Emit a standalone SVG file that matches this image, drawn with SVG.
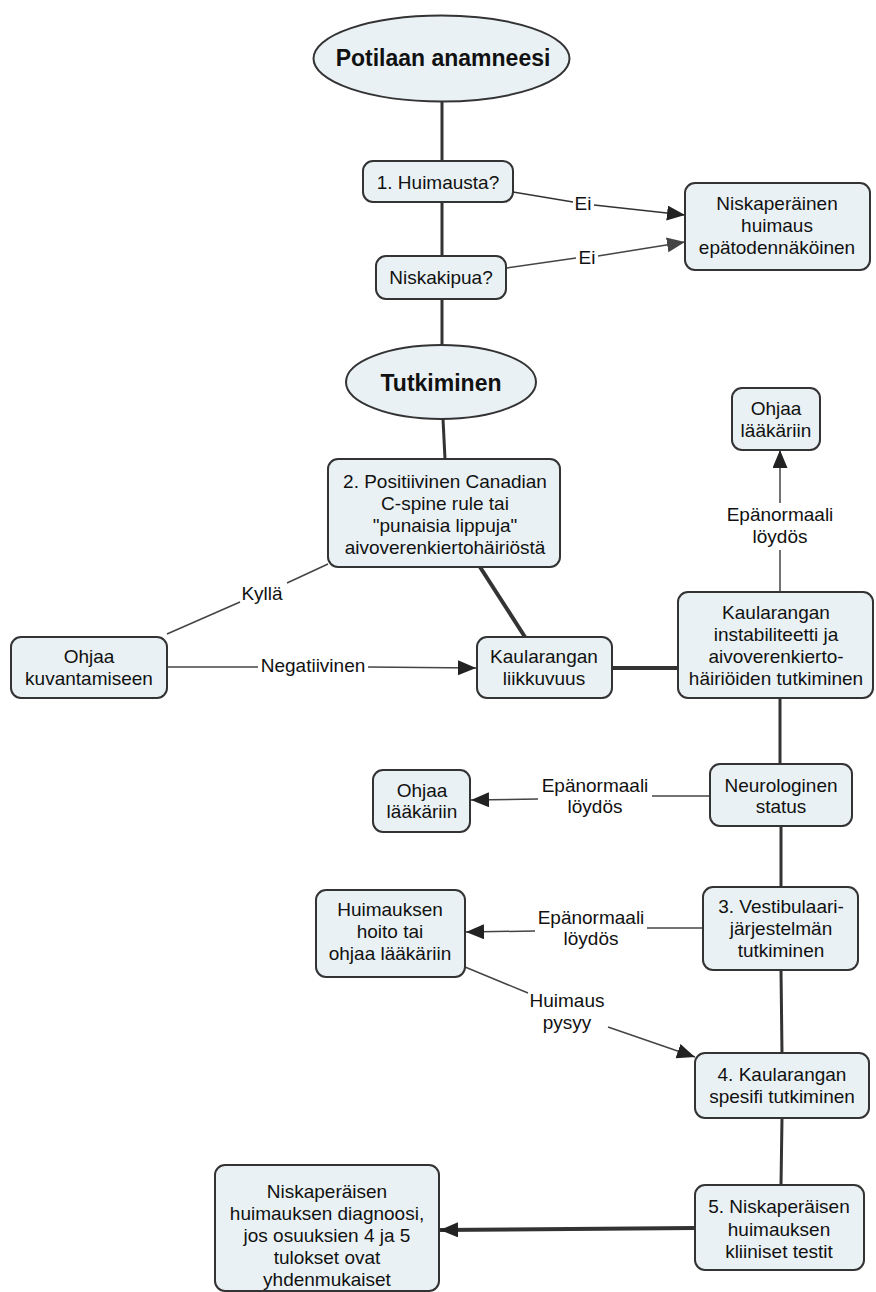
<svg xmlns="http://www.w3.org/2000/svg" width="876" height="1292" viewBox="0 0 876 1292">
<style>
.bg{fill:#ffffff}
.box{fill:#e9f1f5;stroke:#333333;stroke-width:2}
.t{font-family:"Liberation Sans",Arial,sans-serif;font-size:19px;fill:#111111;text-anchor:middle}
.tb{font-family:"Liberation Sans",Arial,sans-serif;font-size:23px;font-weight:bold;fill:#111111;text-anchor:middle}
.lbl{font-family:"Liberation Sans",Arial,sans-serif;font-size:19px;fill:#111111;text-anchor:middle}
.thick{stroke:#333333;stroke-width:3;fill:none}
.thicker{stroke:#333333;stroke-width:4;fill:none}
.thin{stroke:#333333;stroke-width:1.6;fill:none}
.thing{stroke:#444444;stroke-width:1.5;fill:none}
</style>
<defs>
<marker id="ah" markerUnits="userSpaceOnUse" markerWidth="20" markerHeight="17" refX="18" refY="7.5" orient="auto">
<path d="M0,0 L18,7.5 L0,15 z" fill="#222222"/>
</marker>
<marker id="ahg" markerUnits="userSpaceOnUse" markerWidth="20" markerHeight="17" refX="18" refY="7.5" orient="auto">
<path d="M0,0 L18,7.5 L0,15 z" fill="#444444"/>
</marker>
</defs>
<rect class="bg" x="0" y="0" width="876" height="1292"/>
<g id="connectors">
<line class="thick" x1="442" y1="101" x2="442" y2="161"/>
<line class="thick" x1="442" y1="202" x2="442" y2="256"/>
<line class="thick" x1="442" y1="299" x2="442" y2="345"/>
<line class="thick" x1="443" y1="419" x2="445" y2="459"/>
<line class="thin" x1="513" y1="192" x2="573" y2="202"/>
<line class="thin" x1="594" y1="205" x2="685" y2="215" marker-end="url(#ah)"/>
<text class="lbl" x="583" y="210">Ei</text>
<line class="thing" x1="507" y1="268" x2="576" y2="258"/>
<line class="thing" x1="598" y1="256" x2="685" y2="242" marker-end="url(#ahg)"/>
<text class="lbl" x="587" y="264">Ei</text>
<line class="thicker" x1="480" y1="567" x2="525" y2="637"/>
<line class="thing" x1="167" y1="634" x2="240" y2="602"/>
<line class="thing" x1="287" y1="583" x2="328" y2="564"/>
<text class="lbl" x="262" y="600">Kyllä</text>
<line class="thing" x1="167" y1="667" x2="258" y2="667"/>
<line class="thing" x1="368" y1="667" x2="476" y2="668" marker-end="url(#ah)"/>
<text class="lbl" x="313" y="672">Negatiivinen</text>
<line class="thicker" x1="612" y1="668" x2="678" y2="668"/>
<line class="thing" x1="780" y1="592" x2="780" y2="550"/>
<line class="thing" x1="780" y1="503" x2="780" y2="450" marker-end="url(#ah)"/>
<text class="lbl" x="780" y="521">Epänormaali</text>
<text class="lbl" x="780" y="543">löydös</text>
<line class="thick" x1="780" y1="698" x2="780" y2="764"/>
<line class="thing" x1="710" y1="796" x2="652" y2="796"/>
<line class="thing" x1="538" y1="799" x2="471" y2="800" marker-end="url(#ah)"/>
<text class="lbl" x="595" y="792">Epänormaali</text>
<text class="lbl" x="595" y="813">löydös</text>
<line class="thick" x1="781" y1="826" x2="781" y2="887"/>
<line class="thing" x1="703" y1="928" x2="647" y2="928"/>
<line class="thing" x1="535" y1="931" x2="466" y2="932" marker-end="url(#ah)"/>
<text class="lbl" x="591" y="924">Epänormaali</text>
<text class="lbl" x="591" y="945">löydös</text>
<line class="thick" x1="781" y1="970" x2="782" y2="1053"/>
<line class="thing" x1="465" y1="967" x2="528" y2="993"/>
<line class="thing" x1="608" y1="1027" x2="695" y2="1057" marker-end="url(#ah)"/>
<text class="lbl" x="567" y="1007">Huimaus</text>
<text class="lbl" x="567" y="1029">pysyy</text>
<line class="thick" x1="782" y1="1118" x2="781" y2="1185"/>
<line class="thicker" x1="695" y1="1228" x2="440" y2="1230" marker-end="url(#ah)"/>
</g>
<g id="potilaan-anamneesi">
<ellipse class="box" cx="441.5" cy="58.5" rx="128" ry="43"/>
<text class="tb" x="443" y="66">Potilaan anamneesi</text>
</g>
<g id="huimausta">
<rect class="box" x="363" y="161" width="150" height="41" rx="10"/>
<text class="t" x="438" y="189">1. Huimausta?</text>
</g>
<g id="niskakipua">
<rect class="box" x="376" y="256" width="130" height="43" rx="10"/>
<text class="t" x="441" y="284">Niskakipua?</text>
</g>
<g id="epatodennakoinen">
<rect class="box" x="685" y="183" width="185" height="87" rx="10"/>
<text class="t" x="777" y="210">Niskaperäinen</text>
<text class="t" x="777" y="232">huimaus</text>
<text class="t" x="777" y="254">epätodennäköinen</text>
</g>
<g id="tutkiminen">
<ellipse class="box" cx="441" cy="382" rx="95" ry="37"/>
<text class="tb" x="441" y="391">Tutkiminen</text>
</g>
<g id="canadian">
<rect class="box" x="328" y="459" width="232" height="108" rx="10"/>
<text class="t" x="445" y="488">2. Positiivinen Canadian</text>
<text class="t" x="445" y="510">C-spine rule tai</text>
<text class="t" x="445" y="532">"punaisia lippuja"</text>
<text class="t" x="445" y="554">aivoverenkiertohäiriöstä</text>
</g>
<g id="kuvantamiseen">
<rect class="box" x="11" y="637" width="156" height="61" rx="10"/>
<text class="t" x="89" y="663">Ohjaa</text>
<text class="t" x="89" y="685">kuvantamiseen</text>
</g>
<g id="liikkuvuus">
<rect class="box" x="477" y="637" width="135" height="61" rx="10"/>
<text class="t" x="544" y="663">Kaularangan</text>
<text class="t" x="544" y="685">liikkuvuus</text>
</g>
<g id="instabiliteetti">
<rect class="box" x="678" y="592" width="195" height="106" rx="10"/>
<text class="t" x="776" y="619">Kaularangan</text>
<text class="t" x="776" y="641">instabiliteetti ja</text>
<text class="t" x="776" y="663">aivoverenkierto-</text>
<text class="t" x="776" y="685">häiriöiden tutkiminen</text>
</g>
<g id="laakariin-top">
<rect class="box" x="732" y="388" width="88" height="62" rx="10"/>
<text class="t" x="776" y="415">Ohjaa</text>
<text class="t" x="776" y="437">lääkäriin</text>
</g>
<g id="neurologinen">
<rect class="box" x="710" y="764" width="142" height="62" rx="10"/>
<text class="t" x="781" y="792">Neurologinen</text>
<text class="t" x="781" y="813">status</text>
</g>
<g id="laakariin-left">
<rect class="box" x="373" y="770" width="97" height="62" rx="10"/>
<text class="t" x="422" y="797">Ohjaa</text>
<text class="t" x="422" y="818">lääkäriin</text>
</g>
<g id="vestibulaari">
<rect class="box" x="703" y="887" width="155" height="83" rx="10"/>
<text class="t" x="781" y="913">3. Vestibulaari-</text>
<text class="t" x="781" y="935">järjestelmän</text>
<text class="t" x="781" y="957">tutkiminen</text>
</g>
<g id="huimauksen-hoito">
<rect class="box" x="316" y="890" width="149" height="87" rx="10"/>
<text class="t" x="390" y="916">Huimauksen</text>
<text class="t" x="390" y="938">hoito tai</text>
<text class="t" x="390" y="960">ohjaa lääkäriin</text>
</g>
<g id="spesifi">
<rect class="box" x="695" y="1053" width="174" height="65" rx="10"/>
<text class="t" x="782" y="1081">4. Kaularangan</text>
<text class="t" x="782" y="1103">spesifi tutkiminen</text>
</g>
<g id="kliiniset">
<rect class="box" x="695" y="1185" width="169" height="85" rx="10"/>
<text class="t" x="779" y="1213">5. Niskaperäisen</text>
<text class="t" x="779" y="1236">huimauksen</text>
<text class="t" x="779" y="1258">kliiniset testit</text>
</g>
<g id="diagnoosi">
<rect class="box" x="215" y="1165" width="224" height="126" rx="10"/>
<text class="t" x="327" y="1198">Niskaperäisen</text>
<text class="t" x="327" y="1220">huimauksen diagnoosi,</text>
<text class="t" x="327" y="1242">jos osuuksien 4 ja 5</text>
<text class="t" x="327" y="1264">tulokset ovat</text>
<text class="t" x="327" y="1286">yhdenmukaiset</text>
</g>
</svg>
